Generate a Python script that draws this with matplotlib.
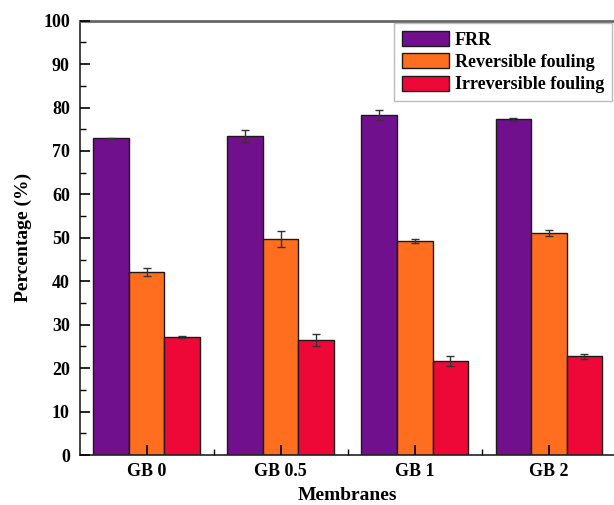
import numpy as np
import matplotlib
matplotlib.use('Agg')
from matplotlib import pyplot as plt
from matplotlib.ticker import MultipleLocator, FixedLocator

membranes = ['GB 0', 'GB 0.5', 'GB 1', 'GB 2']
frr = [72.9, 73.5, 78.3, 77.3]
frr_err = [0.2, 1.4, 1.1, 0.4]
reversible = [42.2, 49.7, 49.3, 51.1]
reversible_err = [0.9, 1.8, 0.5, 0.7]
irreversible = [27.2, 26.4, 21.6, 22.7]
irreversible_err = [0.3, 1.4, 1.1, 0.5]

plt.rcParams['font.family'] = ['Liberation Serif', 'DejaVu Serif']
plt.rcParams['font.weight'] = 'bold'

fig = plt.figure(figsize=(6.14, 5.05), dpi=100)
ax = fig.add_axes([79.5 / 614, 1 - 455 / 505, (616 - 79.5) / 614, (455 - 20.7) / 505])

x = np.arange(len(membranes))
w = 0.265
series = [
    (frr, frr_err, '#70108C', 'FRR'),
    (reversible, reversible_err, '#FF6E1E', 'Reversible fouling'),
    (irreversible, irreversible_err, '#EE0838', 'Irreversible fouling'),
]
for i, (vals, errs, col, lab) in enumerate(series):
    ax.bar(x + (i - 1) * w, vals, w, color=col, edgecolor='#1a1a1a', linewidth=1.0,
           label=lab, zorder=2)
    ax.errorbar(x + (i - 1) * w, vals, yerr=errs, fmt='none', ecolor='#333333',
                elinewidth=1.0, capsize=3, capthick=1.0, zorder=3)

ax.set_axisbelow(False)
ax.set_xlim(-0.5, 3.5)
ax.set_ylim(0, 100)
ax.set_xticks(x)
ax.set_xticklabels(membranes)
ax.xaxis.set_minor_locator(FixedLocator([0.5, 1.5, 2.5]))
ax.yaxis.set_major_locator(MultipleLocator(10))
ax.yaxis.set_minor_locator(MultipleLocator(5))
ax.tick_params(axis='both', which='major', direction='in', length=7, width=1.2,
               labelsize=13)
ax.tick_params(axis='both', which='minor', direction='in', length=4, width=1.0)
ax.tick_params(axis='y', which='both', right=False)
ax.tick_params(axis='x', which='both', top=False)
ax.tick_params(axis='y', which='major', pad=7)
ax.tick_params(axis='x', which='major', pad=6)
for lbl in ax.get_xticklabels() + ax.get_yticklabels():
    lbl.set_fontweight('bold')

for s in ['left', 'bottom', 'right']:
    ax.spines[s].set_linewidth(1.2)
    ax.spines[s].set_color('#222222')
ax.spines['top'].set_linewidth(2.0)
ax.spines['top'].set_color('#666666')

ax.set_xlabel('Membranes', fontsize=14, fontweight='bold', labelpad=5)
ax.set_ylabel('Percentage (%)', fontsize=14, fontweight='bold', labelpad=8)

leg = ax.legend(loc='upper right', bbox_to_anchor=(612 / 614, 1 - 23 / 505),
                bbox_transform=fig.transFigure, borderaxespad=0, fancybox=False,
                frameon=True, edgecolor='#aaaaaa', prop={'size': 13, 'weight': 'bold'},
                handlelength=2.6, handleheight=0.9, handletextpad=0.3,
                labelspacing=0.25, borderpad=0.45)
leg.get_frame().set_linewidth(1.0)

fig.savefig('out.png', dpi=100)
